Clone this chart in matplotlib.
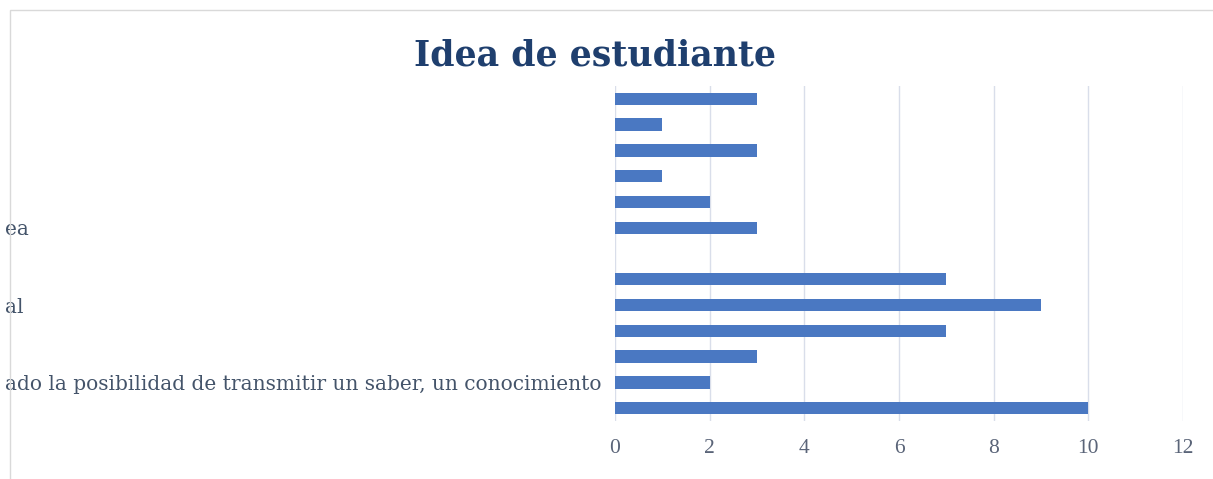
import matplotlib
matplotlib.use("Agg")
import matplotlib.pyplot as plt
from matplotlib.patches import Rectangle

# Data (bottom to top)
categories = ["", "ado la posibilidad de transmitir un saber, un conocimiento", "", "", "al", "", "",
              "ea", "", "", "", "", ""]
values = [10, 2, 3, 7, 9, 7, 0, 3, 2, 1, 3, 1, 3]
x_ticks = [0, 2, 4, 6, 8, 10, 12]
title = "Idea de estudiante"

W, H = 1213, 479
fig = plt.figure(figsize=(W / 100, H / 100), dpi=100)
fig.patches.append(Rectangle((10 / W, -0.01), 1.0, 1 - 10 / H + 0.01, transform=fig.transFigure,
                             fill=False, edgecolor="#D9D9D9", linewidth=1.0))

ax = fig.add_axes([615 / W, 1 - 421 / H, (1183 - 615) / W, (421 - 86) / H])
pos = list(range(len(values)))
ax.barh(pos, values, height=0.48, color="#4A78C2", linewidth=0, zorder=3)
ax.set_xlim(0, 12)
ax.set_ylim(-0.5, len(values) - 0.5)
ax.set_xticks(x_ticks)
ax.set_xticklabels([str(t) for t in x_ticks], fontsize=15.5, color="#5A6478", family="Liberation Serif")
ax.set_yticks(pos)
ax.set_yticklabels(categories, fontsize=14.5, color="#44546A", family="DejaVu Serif")
for lab in ax.get_yticklabels():
    lab.set_horizontalalignment("left")
ax.tick_params(axis="y", length=0, pad=(615 - 5) * 72 / 100)
ax.tick_params(axis="x", length=0, pad=13)
ax.grid(axis="x", color="#D9DEEA", linewidth=1.0, zorder=0)
for s in ax.spines.values():
    s.set_visible(False)

fig.text(595 / W, 1 - 56 / H, title, ha="center", va="center", fontsize=25, fontweight="bold",
         color="#1F3F6E", family="DejaVu Serif")

fig.savefig("out.png", dpi=100)
